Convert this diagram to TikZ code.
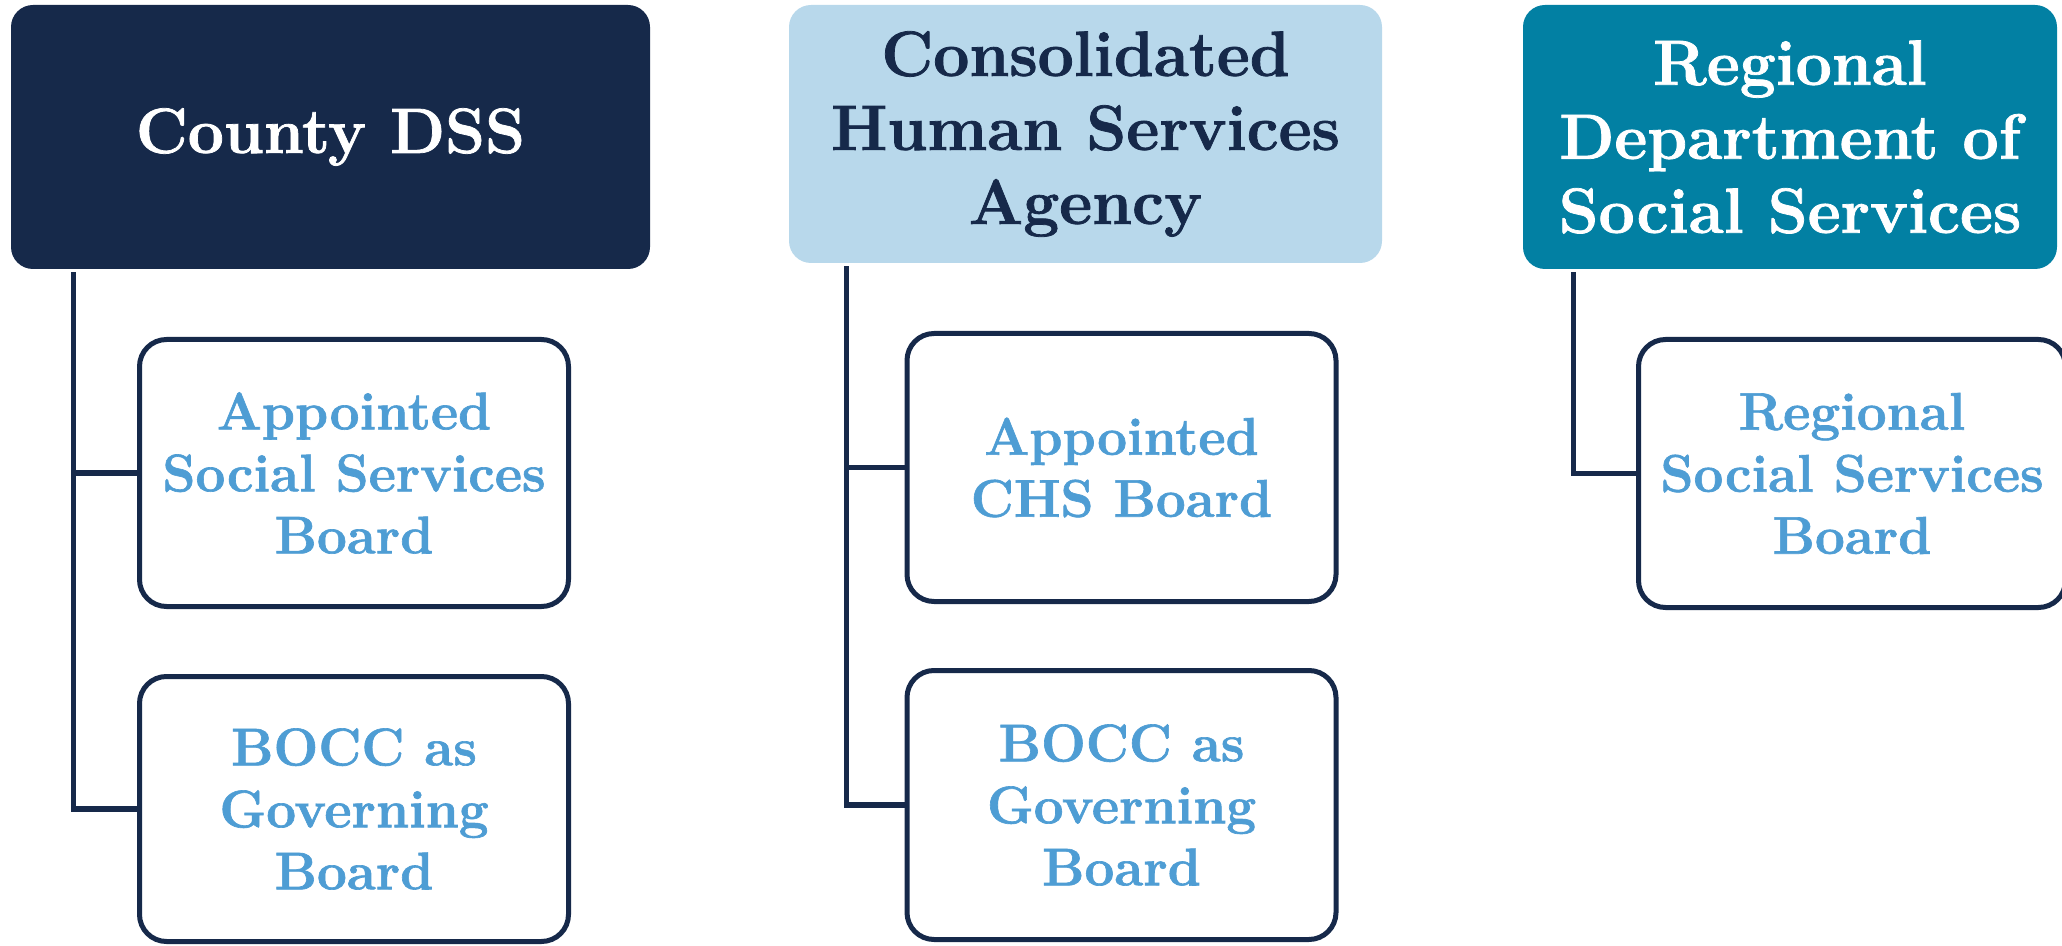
\documentclass[tikz,border=0pt]{standalone}
\usepackage{fontspec}
\setmainfont{Latin Modern Roman}[BoldFeatures={FakeBold=1.2}]
\definecolor{navy}{HTML}{16294A}
\definecolor{lightblue}{HTML}{B8D8EB}
\definecolor{teal}{HTML}{0280A3}
\definecolor{textblue}{HTML}{4E9DD4}
\begin{document}
\begin{tikzpicture}[x=0.5pt,y=0.5pt,
  headbox/.style={rectangle, rounded corners=11pt, inner sep=0pt, align=center,
    font=\fontsize{32}{37}\selectfont\bfseries},
  subbox/.style={rectangle, rounded corners=13.5pt, inner sep=0pt, align=center,
    draw=navy, line width=2.5pt, fill=white, text=textblue,
    minimum width=214.5pt, font=\fontsize{26.5}{31}\selectfont\bfseries},
  conn/.style={draw=navy, line width=2.6pt}]
\useasboundingbox (0,0) rectangle (2062,-946);
% heading boxes
\node[headbox, fill=navy, text=white, minimum width=319.5pt, minimum height=132pt]
  (h1) at (330.5,-137) {County DSS};
\node[headbox, fill=lightblue, text=navy, minimum width=296.5pt, minimum height=129pt]
  (h2) at (1085.5,-134) {Consolidated\\Human Services\\Agency};
\node[headbox, fill=teal, text=white, minimum width=267pt, minimum height=132pt]
  (h3) at (1790,-137) {Regional\\Department of\\Social Services};
% sub boxes
\node[subbox, minimum height=133.5pt] (s1a) at (354,-473) {Appointed\\Social Services\\Board};
\node[subbox, minimum height=132.5pt] (s1b) at (354,-809) {BOCC as\\Governing\\Board};
\node[subbox, minimum height=134pt] (s2a) at (1121.5,-467.5) {Appointed\\CHS Board};
\node[subbox, minimum height=134.5pt] (s2b) at (1121.5,-805) {BOCC as\\Governing\\Board};
\node[subbox, minimum width=213.5pt, minimum height=134pt] (s3) at (1852,-473.5) {Regional\\Social Services\\Board};
% trunk tops
\coordinate (t1) at ([xshift=31.25pt,yshift=-1.5pt]h1.south west);
\coordinate (t2) at ([xshift=28.75pt,yshift=-1.5pt]h2.south west);
\coordinate (t3) at ([xshift=25.5pt,yshift=-1.5pt]h3.south west);
% connectors
\draw[conn] (t1) |- (s1b.west);
\draw[conn] (s1a.west) -- (s1a.west -| t1);
\draw[conn] (t2) |- (s2b.west);
\draw[conn] (s2a.west) -- (s2a.west -| t2);
\draw[conn] (t3) |- (s3.west);
\end{tikzpicture}
\end{document}
